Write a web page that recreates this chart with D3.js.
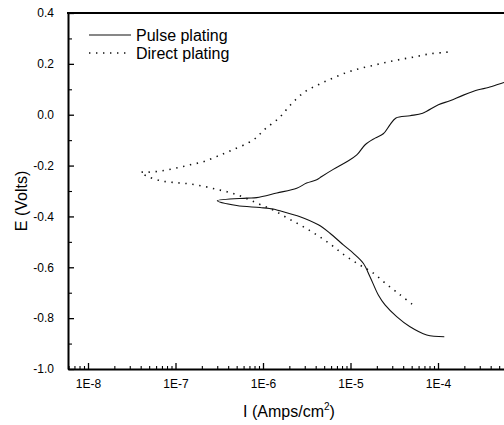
<!DOCTYPE html>
<html>
<head>
<meta charset="utf-8">
<script src="https://cdn.jsdelivr.net/npm/d3@7"></script>
<style>
  html, body { margin: 0; padding: 0; background: #fff; }
  svg { display: block; }
  text { font-family: "Liberation Sans", Arial, sans-serif; fill: #000; }
</style>
</head>
<body>
<svg id="chart" width="504" height="425"></svg>
<script>
// Potentiodynamic polarization: current density (A/cm²) vs potential (V)
const pulseI = [1.18e-4, 7.43e-5, 4.79e-5, 3.37e-5, 2.48e-5, 2.08e-5, 1.67e-5, 1.40e-5, 1.08e-5, 8.28e-6,
  5.83e-6, 4.29e-6, 2.65e-6, 1.56e-6, 1.31e-6, 9.25e-7, 5.0e-7, 3.01e-7,
  6.52e-7, 8.47e-7, 1.44e-6, 2.43e-6, 3.15e-6, 4.11e-6, 4.69e-6, 6.35e-6, 9.06e-6, 1.18e-5,
  1.47e-5, 1.91e-5, 2.37e-5, 2.82e-5, 3.31e-5, 4.79e-5, 6.68e-5, 1.01e-4, 1.37e-4, 1.95e-4,
  2.89e-4, 3.76e-4, 5.67e-4, 8.65e-4];
const pulseE = [-0.873, -0.866, -0.834, -0.794, -0.748, -0.709, -0.637, -0.584, -0.545, -0.512,
  -0.466, -0.433, -0.401, -0.378, -0.371, -0.365, -0.357, -0.338,
  -0.328, -0.326, -0.308, -0.289, -0.269, -0.256, -0.243, -0.215, -0.185, -0.158,
  -0.118, -0.092, -0.075, -0.040, -0.013, -0.004, 0.006, 0.039, 0.055, 0.077,
  0.098, 0.107, 0.127, 0.145];

const directI = [5.05e-5, 3.68e-5, 2.55e-5, 1.76e-5, 1.22e-5, 8.43e-6, 5.83e-6, 4.04e-6, 2.77e-6, 1.91e-6,
  1.31e-6, 9.25e-7, 6.34e-7, 4.38e-7, 3.08e-7, 2.12e-7, 1.44e-7, 9.87e-8, 6.82e-8, 4.81e-8, 4.0e-8,
  4.89e-8, 6.95e-8, 1.01e-7, 1.47e-7, 2.12e-7, 3.08e-7, 4.51e-7, 7.74e-7, 1.05e-6, 1.53e-6,
  2.07e-6, 2.94e-6, 4.29e-6, 6.19e-6, 9.06e-6, 1.29e-5, 1.87e-5, 2.70e-5, 3.95e-5, 5.72e-5,
  8.26e-5, 1.20e-4, 1.44e-4];
const directE = [-0.745, -0.708, -0.665, -0.619, -0.587, -0.551, -0.508, -0.471, -0.437, -0.407,
  -0.375, -0.353, -0.328, -0.308, -0.295, -0.282, -0.272, -0.267, -0.260, -0.243, -0.227,
  -0.226, -0.221, -0.210, -0.197, -0.184, -0.162, -0.138, -0.099, -0.057, -0.012,
  0.039, 0.088, 0.118, 0.143, 0.166, 0.182, 0.195, 0.208, 0.219, 0.229,
  0.240, 0.245, 0.249];

const xMajorTicks = [1e-8, 1e-7, 1e-6, 1e-5, 1e-4];
const xTickLabels = ["1E-8", "1E-7", "1E-6", "1E-5", "1E-4"];
const yMajorTicks = [-1.0, -0.8, -0.6, -0.4, -0.2, 0.0, 0.2, 0.4];
const yTickLabels = ["-1.0", "-0.8", "-0.6", "-0.4", "-0.2", "0.0", "0.2", "0.4"];
const seriesNames = ["Pulse plating", "Direct plating"];

const svg = d3.select("#chart");
const plotLeft = 68, plotRight = 504, plotTop = 13, plotBottom = 369;
const decadePx = 87.5;
const tickFont = 12, titleFont = 16;

// log x scale: 1E-8 sits 20px inside the left axis; the plot runs on past the right edge
const x = d3.scaleLog()
  .domain([Math.pow(10, -8 - 20 / decadePx), Math.pow(10, -8 + (plotRight - 88) / decadePx)])
  .range([plotLeft, plotRight]);
const y = d3.scaleLinear().domain([-1.0, 0.4]).range([plotBottom, plotTop]);

// minor ticks
const xMinor = [];
for (let e = -9; e <= -4; e++) {
  for (let m = 2; m <= 9; m++) {
    const v = m * Math.pow(10, e);
    if (v > x.domain()[0] && v < x.domain()[1]) xMinor.push(v);
  }
}
const yMinor = d3.range(-0.9, 0.4, 0.2).map(v => +v.toFixed(1));

svg.append("g")
  .attr("transform", `translate(0,${plotBottom})`)
  .call(d3.axisBottom(x).tickValues(xMinor).tickSize(-3).tickFormat(""))
  .call(g => g.select(".domain").remove())
  .selectAll("line").attr("stroke", "#000").attr("stroke-width", 1.1);

svg.append("g")
  .attr("transform", `translate(${plotLeft},0)`)
  .call(d3.axisLeft(y).tickValues(yMinor).tickSize(-4).tickFormat(""))
  .call(g => g.select(".domain").remove())
  .selectAll("line").attr("stroke", "#000").attr("stroke-width", 1.1);

const xAxis = svg.append("g")
  .attr("transform", `translate(0,${plotBottom})`)
  .call(d3.axisBottom(x).tickValues(xMajorTicks).tickSizeInner(-6).tickSizeOuter(0).tickPadding(10)
    .tickFormat((d, i) => xTickLabels[i]));
xAxis.select(".domain").attr("stroke", "#000").attr("stroke-width", 2);
xAxis.selectAll(".tick line").attr("stroke", "#000").attr("stroke-width", 1.3);
xAxis.selectAll("text").attr("font-size", tickFont).attr("font-family", "Liberation Sans, Arial, sans-serif");

const yAxis = svg.append("g")
  .attr("transform", `translate(${plotLeft},0)`)
  .call(d3.axisLeft(y).tickValues(yMajorTicks).tickSizeInner(-6).tickSizeOuter(0).tickPadding(14)
    .tickFormat((d, i) => yTickLabels[i]));
yAxis.select(".domain").attr("stroke", "#000").attr("stroke-width", 2);
yAxis.selectAll(".tick line").attr("stroke", "#000").attr("stroke-width", 1.3);
yAxis.selectAll("text").attr("font-size", tickFont).attr("font-family", "Liberation Sans, Arial, sans-serif");

// top frame line
svg.append("line")
  .attr("x1", plotLeft - 1).attr("x2", plotRight).attr("y1", y(0.4)).attr("y2", y(0.4))
  .attr("stroke", "#000").attr("stroke-width", 2);

// curves
svg.append("clipPath").attr("id", "plotClip")
  .append("rect").attr("x", plotLeft).attr("y", plotTop)
  .attr("width", plotRight - plotLeft).attr("height", plotBottom - plotTop);

const line = d3.line().x(d => x(d[0])).y(d => y(d[1])).curve(d3.curveCatmullRom.alpha(0.5));

const pulse = pulseI.map((v, i) => [v, pulseE[i]]);
const direct = directI.map((v, i) => [v, directE[i]]);

const plot = svg.append("g").attr("clip-path", "url(#plotClip)");
plot.append("path").datum(pulse)
  .attr("d", line)
  .attr("fill", "none").attr("stroke", "#111").attr("stroke-width", 1.1);
plot.append("path").datum(direct)
  .attr("d", line)
  .attr("fill", "none").attr("stroke", "#111").attr("stroke-width", 1.6)
  .attr("stroke-dasharray", "1.4 5.6").attr("stroke-linecap", "butt");

// legend
const legend = svg.append("g");
[0, 1].forEach(i => {
  const ly = 35 + i * 18;
  legend.append("line")
    .attr("x1", 89).attr("x2", i === 0 ? 131 : 127).attr("y1", ly).attr("y2", ly)
    .attr("stroke", "#111")
    .attr("stroke-width", i === 0 ? 1.1 : 1.6)
    .attr("stroke-dasharray", i === 0 ? null : "1.4 5.6");
  legend.append("text")
    .attr("x", 136).attr("y", ly + 5.5)
    .attr("font-size", titleFont)
    .text(seriesNames[i]);
});

// axis titles
const xt = svg.append("text")
  .attr("x", 289).attr("y", 417)
  .attr("text-anchor", "middle")
  .attr("font-size", titleFont);
xt.append("tspan").text("I (Amps/cm");
xt.append("tspan").attr("font-size", 10).attr("dy", -7).text("2");
xt.append("tspan").attr("dy", 7).text(")");

svg.append("text")
  .attr("transform", "translate(27,201) rotate(-90)")
  .attr("text-anchor", "middle")
  .attr("font-size", titleFont)
  .text("E (Volts)");
</script>
</body>
</html>
